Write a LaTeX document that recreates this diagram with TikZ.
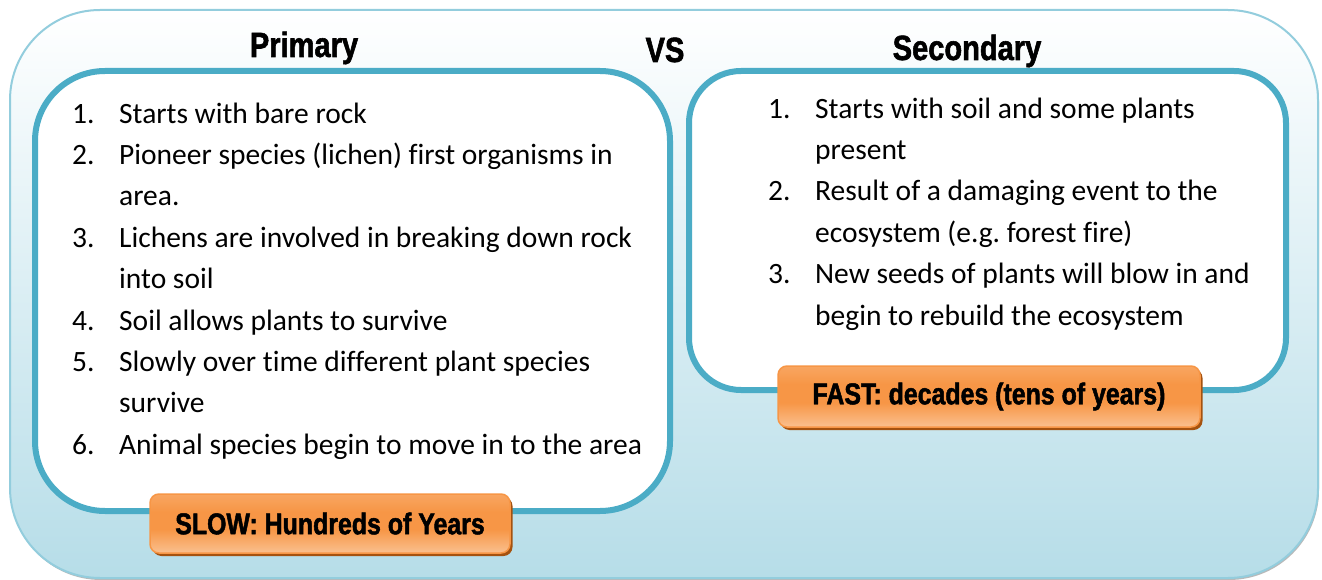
\documentclass[tikz,border=0pt]{standalone}
\usepackage{fontspec}
\setmainfont{Carlito}[Ligatures=NoCommon]
\newfontfamily\headfont[FakeStretch=0.83, BoldFeatures={FakeBold=1.6}]{Liberation Sans}
\usetikzlibrary{positioning}
\usetikzlibrary{shadows}
\definecolor{rimblue}{HTML}{93CDDD}
\definecolor{skyblue}{HTML}{B6DDE8}
\definecolor{panelteal}{HTML}{4BACC6}
\definecolor{tagorange}{HTML}{F79646}
\definecolor{taglight}{HTML}{FAC08F}
\definecolor{tagshade}{HTML}{A5520F}
\pgfdeclareverticalshading{tagfill}{100bp}{color(0bp)=(taglight); color(25bp)=(taglight); color(45bp)=(tagorange); color(60bp)=(tagorange); color(100bp)=(taglight)}
\tikzset{x=1pt, y=-1pt, % one unit per pixel, counted from the top
backdrop/.style={ % big rounded card behind everything
draw=rimblue, line width=2pt,
rounded corners=90pt,
top color=white, bottom color=skyblue,
drop shadow={shadow xshift=1pt, shadow yshift=-2pt, fill=gray!55, opacity=1}},
panel/.style={ % white boxes holding the lists
draw=panelteal, line width=6pt,
fill=white},
speedtag/.style={ % orange labels under the lists
draw=tagorange, line width=1.5pt,
rounded corners=9pt,
shading=tagfill,
drop shadow={shadow xshift=2.5pt, shadow yshift=-3pt, fill=tagshade, opacity=1},
font=\headfont\bfseries\fontsize{30}{36}\selectfont},
heading/.style={anchor=base, font=\headfont\bfseries\fontsize{35}{40}\selectfont},
steps/.style={anchor=north west, inner sep=0pt, font=\fontsize{29.5}{41.4}\selectfont}}
\frenchspacing

\begin{document}
\begin{tikzpicture}
\useasboundingbox (0,0) rectangle (1322,580);
\node[backdrop, minimum width=1308pt, minimum height=568pt] (card) at (664,294) {};

\node[panel, rounded corners=70pt, minimum width=635pt, minimum height=440pt] (primarybox) at (352.5,291) {};
\node[panel, rounded corners=52pt, minimum width=597pt, minimum height=319pt] (secondarybox) at (987.5,230.5) {};

\node[heading] (primary) at (304,57) {Primary};
\node[heading] (vs) at (665,62) {VS};
\node[heading] (secondary) at (967,60) {Secondary};

\node[steps] (primarylist) at (72,94) {%
\begin{tabular}{@{}p{47pt}@{}l@{}}
1. & Starts with bare rock\\
2. & Pioneer species (lichen) first organisms in\\
   & area.\\
3. & Lichens are involved in breaking down rock\\
   & into soil\\
4. & Soil allows plants to survive\\
5. & Slowly over time different plant species\\
   & survive\\
6. & Animal species begin to move in to the area
\end{tabular}};

\node[steps] (secondarylist) at (768,89) {%
\begin{tabular}{@{}p{47pt}@{}l@{}}
1. & Starts with soil and some plants\\
   & present\\
2. & Result of a damaging event to the\\
   & ecosystem (e.g. forest fire)\\
3. & New seeds of plants will blow in and\\
   & begin to rebuild the ecosystem
\end{tabular}};

\node[speedtag, minimum width=360pt, minimum height=59pt] (slow) at (330,523.5) {SLOW: Hundreds of Years};
\node[speedtag, minimum width=422pt, minimum height=61pt] (fast) at (989,396.5) {FAST: decades (tens of years)};
\end{tikzpicture}
\end{document}
